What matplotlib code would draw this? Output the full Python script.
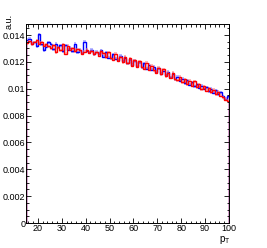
import numpy as np
import matplotlib.pyplot as plt
from matplotlib.ticker import MultipleLocator, FuncFormatter

plt.rcParams['font.family'] = ['Liberation Sans', 'DejaVu Sans']

# binning: 1 GeV bins from 15 to 100
edges = np.arange(15, 101)

blue = [0.01365, 0.01372, 0.01335, 0.01348, 0.01318, 0.01405, 0.01330, 0.01285, 0.01312, 0.01345,
        0.01330, 0.01295, 0.01335, 0.01310, 0.01322, 0.01278, 0.01325, 0.01292, 0.01305, 0.01280,
        0.01335, 0.01272, 0.01290, 0.01265, 0.01350, 0.01282, 0.01270, 0.01292, 0.01258, 0.01275,
        0.01262, 0.01285, 0.01240, 0.01270, 0.01232, 0.01228, 0.01258, 0.01222, 0.01215, 0.01245,
        0.01205, 0.01232, 0.01190, 0.01218, 0.01180, 0.01208, 0.01168, 0.01196, 0.01160, 0.01188,
        0.01148, 0.01178, 0.01140, 0.01162, 0.01125, 0.01152, 0.01112, 0.01135, 0.01100, 0.01125,
        0.01085, 0.01110, 0.01072, 0.01090, 0.01060, 0.01075, 0.01042, 0.01062, 0.01030, 0.01048,
        0.01018, 0.01035, 0.01008, 0.01022, 0.00998, 0.01012, 0.00980, 0.01000, 0.00970, 0.00988,
        0.00958, 0.00975, 0.00945, 0.00925, 0.00945]

red = [0.01340, 0.01355, 0.01330, 0.01348, 0.01360, 0.01335, 0.01345, 0.01320, 0.01332, 0.01318,
       0.01300, 0.01325, 0.01270, 0.01310, 0.01288, 0.01330, 0.01262, 0.01320, 0.01290, 0.01300,
       0.01278, 0.01295, 0.01285, 0.01262, 0.01275, 0.01290, 0.01268, 0.01280, 0.01255, 0.01270,
       0.01245, 0.01280, 0.01265, 0.01235, 0.01272, 0.01230, 0.01215, 0.01262, 0.01210, 0.01235,
       0.01198, 0.01238, 0.01188, 0.01228, 0.01172, 0.01212, 0.01162, 0.01205, 0.01165, 0.01150,
       0.01195, 0.01140, 0.01170, 0.01138, 0.01120, 0.01158, 0.01108, 0.01145, 0.01092, 0.01120,
       0.01082, 0.01118, 0.01070, 0.01062, 0.01090, 0.01048, 0.01072, 0.01035, 0.01060, 0.01022,
       0.01055, 0.01010, 0.01032, 0.00995, 0.01020, 0.00985, 0.01005, 0.00972, 0.00992, 0.00958,
       0.00978, 0.00948, 0.00935, 0.00918, 0.00912]

err = 0.00011  # half width of the error boxes

fig = plt.figure(figsize=(2.67, 2.48), dpi=100)
ax = fig.add_axes([0.0974, 0.1008, 0.7603, 0.8024])

for vals, col, light in [(blue, '#0000ff', '#8080ff'), (red, '#ff0000', '#ff8080')]:
    v = np.array(vals)
    ax.stairs(v + err, edges, baseline=v - err, fill=True, color=light, alpha=0.55, lw=0)
    ax.stairs(v, edges, color=col, lw=1.0)

ax.set_xlim(15, 100)
ax.set_ylim(0, 0.01482)

ax.xaxis.set_major_locator(MultipleLocator(10))
ax.xaxis.set_minor_locator(MultipleLocator(2))
ax.yaxis.set_major_locator(MultipleLocator(0.002))
ax.yaxis.set_minor_locator(MultipleLocator(0.0005))
ax.yaxis.set_major_formatter(FuncFormatter(lambda v, p: f"{v:g}"))

ax.tick_params(which='both', direction='in', top=True, right=True, labelsize=6.5,
               width=0.6)
ax.tick_params(axis='x', pad=1.0)
ax.tick_params(axis='y', pad=0.6)
ax.tick_params(which='major', length=3.6)
ax.tick_params(which='minor', length=1.8)
for s in ax.spines.values():
    s.set_linewidth(0.7)

fig.text(0.035, 0.915, 'a.u.', rotation=90, ha='center', va='center', fontsize=6.5)
fig.text(0.843, 0.032, r'p$_\mathregular{T}$', ha='center', va='center', fontsize=7)

fig.savefig('out.png', dpi=100)
